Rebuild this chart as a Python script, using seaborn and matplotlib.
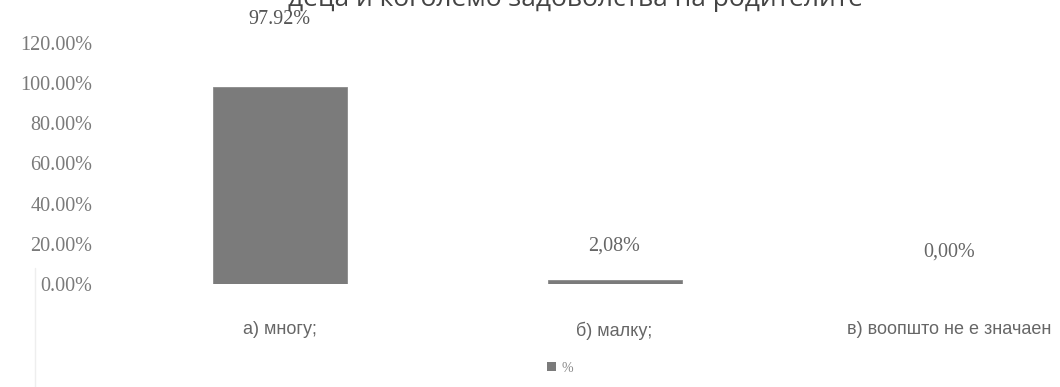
import matplotlib
matplotlib.use("Agg")
import matplotlib.pyplot as plt
import seaborn as sns
import pandas as pd
from matplotlib.patches import Patch

categories = ["а) многу;", "б) малку;", "в) воопшто не е значаен"]
values = [97.92, 2.08, 0.00]
value_labels = ["97.92%", "2,08%", "0,00%"]
y_ticks = [0, 20, 40, 60, 80, 100, 120]
y_tick_labels = ["0.00%", "20.00%", "40.00%", "60.00%", "80.00%", "100.00%", "120.00%"]
title = "деца и коголемо задоволства на родителите"
series_name = "%"

sns.set_theme(style="white")
plt.rcParams["font.family"] = ["Liberation Serif", "DejaVu Serif"]

df = pd.DataFrame({"cat": categories, "val": values})

fig = plt.figure(figsize=(10.6, 3.87), dpi=100)
W, H = 1060, 387
ax = fig.add_axes([112 / W, (H - 284) / H, 1005 / W, 241 / H])

sns.barplot(data=df, x="cat", y="val", color="#7b7b7b", width=0.4, ax=ax,
            saturation=1, edgecolor="#8a8a8a", linewidth=0.6)

ax.set_ylim(0, 120)
ax.set_yticks(y_ticks)
ax.set_yticklabels(y_tick_labels, color="#7a7a7a", fontsize=14.5)
ax.tick_params(axis="y", length=0, pad=14)
ax.tick_params(axis="x", length=0, pad=27)
for lbl in ax.get_xticklabels():
    lbl.set_family(["Liberation Sans", "DejaVu Sans"])
    lbl.set_fontsize(13)
    lbl.set_color("#666666")
ax.set_xlabel("")
ax.set_ylabel("")
for s in ax.spines.values():
    s.set_visible(False)

# data labels
for i, (v, t) in enumerate(zip(values, value_labels)):
    if i == 0:
        ax.text(i, v + 34, t, ha="center", va="center", fontsize=14.5,
                color="#555555", clip_on=False)
    else:
        ax.text(i, v + 17.2 - 0.6 * i, t, ha="center", va="center", fontsize=14.5,
                color="#666666")

fig.text(575 / W, 1.0 - 6 / H, title, ha="center", va="baseline",
         fontsize=19, color="#444444", family=["Open Sans", "DejaVu Sans"])

handles = [Patch(facecolor="#7b7b7b", edgecolor="none", label=series_name)]
fig.legend(handles=handles, loc="center", bbox_to_anchor=(560 / W, (H - 368) / H),
           frameon=False, fontsize=10, handlelength=0.6, handleheight=0.6,
           handletextpad=0.4, labelcolor="#888888")

# faint left rule
fig.add_artist(plt.Line2D([35 / W, 35 / W], [0, (H - 268) / H],
                          color="#eeeeee", linewidth=1))

fig.savefig("out.png", dpi=100)
